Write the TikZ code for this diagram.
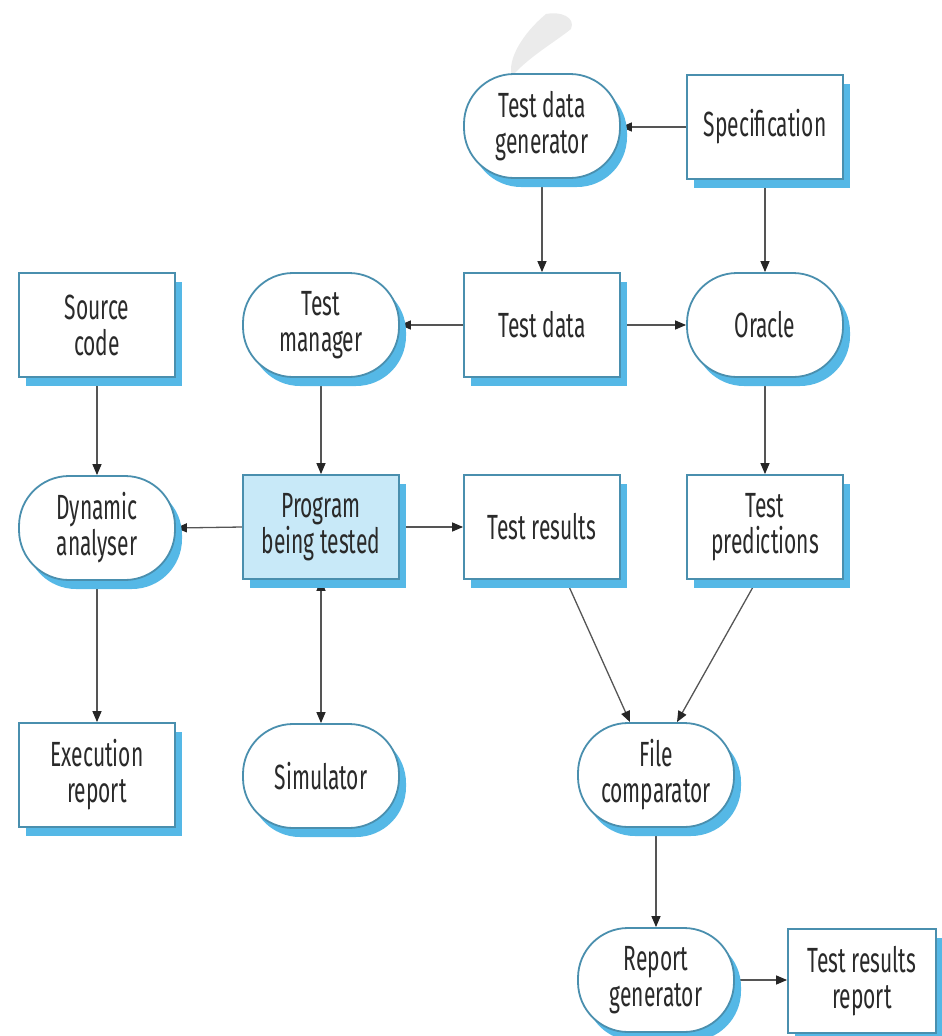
\documentclass[tikz,border=0pt]{standalone}
\usepackage{fontspec}
\setmainfont[FakeStretch=0.6]{Fira Sans}
\usetikzlibrary{arrows.meta,shadows,backgrounds}
\definecolor{edgeblue}{HTML}{4A8FAE}
\definecolor{shblue}{HTML}{55B8E6}
\definecolor{progfill}{HTML}{C8E9F8}
\definecolor{inkgray}{HTML}{2A2A2A}
\definecolor{wiregray}{HTML}{555555}
\begin{document}
\begin{tikzpicture}[x=1pt,y=-1pt,
  base/.style={draw=edgeblue, line width=1.8pt, fill=white,
    minimum width=156pt, minimum height=104pt, align=center,
    font=\fontsize{35}{36}\selectfont, text=inkgray, inner sep=0pt,
    drop shadow={shadow xshift=7pt, shadow yshift=-9pt, fill=shblue, opacity=1}},
  datastore/.style={base, rectangle},
  tool/.style={base, rectangle, rounded corners=50pt},
  wire/.style={draw=wiregray, line width=1.3pt,
    -{Triangle[length=11pt,width=9pt,color=black!85]}},
  biwire/.style={wire, {Triangle[length=11pt,width=9pt,color=black!85]}-{Triangle[length=11pt,width=9pt,color=black!85]}},
]
\useasboundingbox (0,0) rectangle (942,1036);

% faint mark at the top
\fill[gray!16] (546,14) .. controls (560,11) and (576,17) .. (571,29)
  .. controls (555,42) and (530,56) .. (512,76)
  .. controls (507,60) and (522,34) .. cycle;

% row 1
\node[tool] (tdg) at (542,126) {Test data\\generator};
\node[datastore] (spec) at (765,127) {Specification};
% row 2
\node[datastore] (src) at (97,325) {Source\\code};
\node[tool] (tm) at (321,325) {Test\\manager};
\node[datastore] (td) at (542,325) {Test data};
\node[tool] (oracle) at (765,325) {Oracle};
% row 3
\node[tool] (dyn) at (97,528) {Dynamic\\analyser};
\node[datastore, fill=progfill] (prog) at (321,527) {Program\\being tested};
\node[datastore] (tr) at (542,527) {Test results};
\node[datastore] (pred) at (765,527) {Test\\predictions};
% row 4
\node[datastore] (exec) at (97,775) {Execution\\report};
\node[tool] (sim) at (321,776) {Simulator};
\node[tool] (fc) at (656,775) {File\\comparator};
% row 5
\node[tool] (rg) at (656,980) {Report\\generator};
\node[datastore, minimum width=148pt] (trr) at (862,981) {Test results\\report};

\begin{scope}[on background layer]
  \draw[wire] (spec.west) -- (spec.west -| tdg.east);
  \draw[wire] (tdg.south) -- (td.north);
  \draw[wire] (spec.south) -- (oracle.north);
  \draw[wire] (td.west) -- (tm.east);
  \draw[wire] (td.east) -- (oracle.west);
  \draw[wire] (tm.south) -- (prog.north);
  \draw[wire] (src.south) -- (dyn.north);
  \draw[wire] (prog.west) -- (dyn.east);
  \draw[wire] (prog.east) -- (tr.west);
  \draw[wire] (oracle.south) -- (pred.north);
  \draw[wire] (dyn.south) -- (exec.north);
  \draw[biwire] (prog.south) -- (sim.north);
  \draw[wire] ([xshift=24pt]tr.south) -- ([xshift=-26pt]fc.north);
  \draw[wire] ([xshift=-8pt]pred.south) -- ([xshift=21pt]fc.north);
  \draw[wire] (fc.south) -- (rg.north);
  \draw[wire] (rg.east) -- (rg.east -| trr.west);
\end{scope}
\end{tikzpicture}
\end{document}
